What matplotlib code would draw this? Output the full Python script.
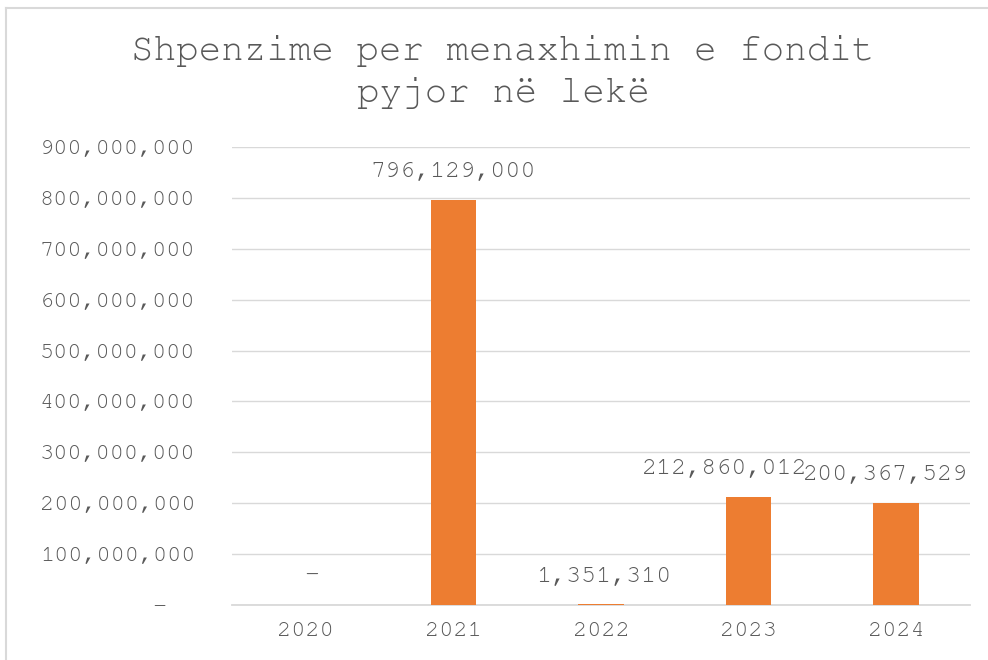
import matplotlib.pyplot as plt
from matplotlib.lines import Line2D
from matplotlib.ticker import FuncFormatter
from matplotlib import font_manager

years = ['2020', '2021', '2022', '2023', '2024']
values = [0, 796129000, 1351310, 212860012, 200367529]
title = 'Shpenzime per menaxhimin e fondit\npyjor në lekë'

bar_color = '#ED7D31'
text_color = '#595959'
grid_color = '#D9D9D9'

# courier-like if there is one, otherwise liberation mono (same metrics)
installed = {f.name for f in font_manager.fontManager.ttflist}
font = 'Liberation Mono'
for cand in ['Courier New', 'Nimbus Mono PS', 'Nimbus Mono L', 'FreeMono', 'Courier Prime', 'Courier']:
    if cand in installed:
        font = cand
        break

# label x-shifts (points), like excel nudging labels so they don't overlap
label_dx = [4, 0, 2, -17, -7.5]

fig = plt.figure(figsize=(9.88, 6.6), dpi=100)
ax = fig.add_axes([232/988, 1 - 605/660, (970 - 232)/988, (605 - 147)/660])

x = range(len(years))
ax.bar(x, values, width=0.31, color=bar_color, zorder=3)

for i, v in enumerate(values):
    lbl = '-' if v == 0 else f'{v:,}'
    ax.annotate(lbl, (i, v), xytext=(label_dx[i], 20), textcoords='offset points',
                ha='center', va='center', fontsize=18, family=font, color=text_color)

ax.set_ylim(0, 900000000)
ax.set_xlim(-0.5, len(years) - 0.5)
ax.set_yticks(range(0, 900000001, 100000000))
ax.yaxis.set_major_formatter(FuncFormatter(lambda v, p: '-  ' if v == 0 else f'{int(v):,}'))
ax.set_xticks(list(x))
ax.set_xticklabels(years)

ax.grid(axis='y', color=grid_color, linewidth=1, zorder=0)
for s in ['top', 'right', 'left']:
    ax.spines[s].set_visible(False)
ax.spines['bottom'].set_color(grid_color)
ax.spines['bottom'].set_linewidth(1.3)

ax.tick_params(axis='y', length=0, pad=26.5, labelsize=17, labelcolor=text_color)
ax.tick_params(axis='x', length=0, pad=12, labelsize=17, labelcolor=text_color)
for t in ax.get_xticklabels() + ax.get_yticklabels():
    t.set_family(font)

fig.text(503/988, 1 - 72/660, title, ha='center', va='center', fontsize=27,
         family=font, color=text_color, linespacing=1.4)

# chart frame (top and left edges only visible)
fig.add_artist(Line2D([6/988, 1], [1 - 8/660, 1 - 8/660], color=grid_color, lw=1.5))
fig.add_artist(Line2D([6/988, 6/988], [0, 1 - 8/660], color=grid_color, lw=1.5))

fig.savefig('out.png', dpi=100)
